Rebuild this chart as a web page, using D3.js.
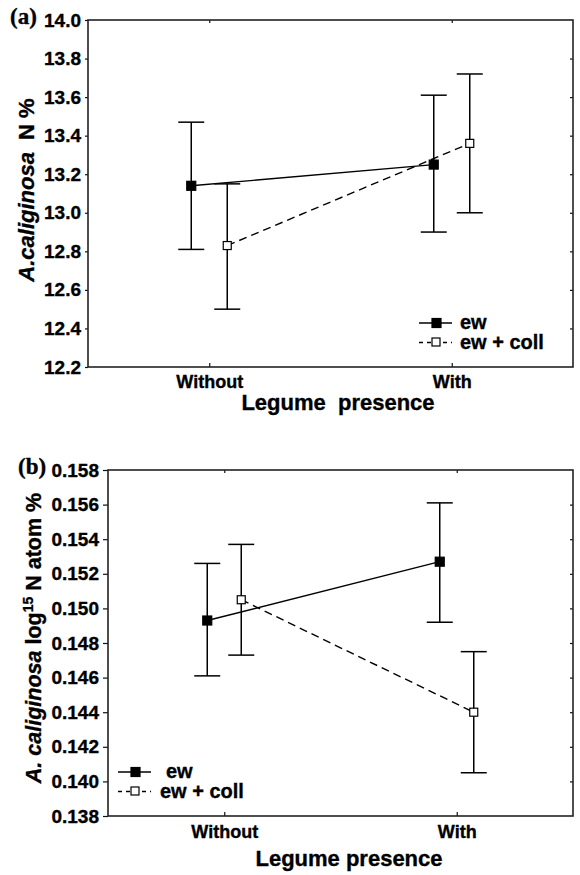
<!DOCTYPE html>
<html>
<head>
<meta charset="utf-8">
<script src="https://cdn.jsdelivr.net/npm/d3@7"></script>
<style>
  body { margin: 0; background: #fff; }
  text { font-family: "Liberation Sans", Arial, sans-serif; font-weight: bold; fill: #000; stroke: #000; stroke-width: 0.35px; }
  .tick text { font-size: 19px; }
  .tick line { stroke: #111; stroke-width: 1.2px; }
  .frame { fill: none; stroke: #222; stroke-width: 1.6px; }
</style>
</head>
<body>
<script>
// shared
var categories = ['Without', 'With'];
var seriesNames = ['ew', 'ew + coll'];

// (a) A. caliginosa N %
var nTicks = [12.2, 12.4, 12.6, 12.8, 13.0, 13.2, 13.4, 13.6, 13.8, 14.0];
var nEwMean = [13.14, 13.25];
var nEwLow = [12.81, 12.90];
var nEwHigh = [13.47, 13.61];
var nCollMean = [12.83, 13.36];
var nCollLow = [12.50, 13.00];
var nCollHigh = [13.15, 13.72];

// (b) A. caliginosa log15 N atom %
var isoTicks = [0.138, 0.140, 0.142, 0.144, 0.146, 0.148, 0.150, 0.152, 0.154, 0.156, 0.158];
var isoEwMean = [0.1493, 0.1527];
var isoEwLow = [0.1461, 0.1492];
var isoEwHigh = [0.1526, 0.1561];
var isoCollMean = [0.1505, 0.1440];
var isoCollLow = [0.1473, 0.1405];
var isoCollHigh = [0.1537, 0.1475];

var svg = d3.select('body').append('svg').attr('width', 580).attr('height', 875);

function panel(opt) {
    var g = svg.append('g');
    var x = d3.scalePoint().domain(categories).range([opt.left, opt.right]).padding(0.5);
    var y = d3.scaleLinear().domain([opt.ticks[0], opt.ticks[opt.ticks.length - 1]])
              .range([opt.bottom, opt.top]);

    // axes
    var left = g.append('g').attr('transform', 'translate(' + opt.left + ',0)')
        .call(d3.axisLeft(y).tickValues(opt.ticks).tickFormat(d3.format(opt.fmt))
              .tickSize(opt.tickLen).tickPadding(opt.pad));
    left.select('.domain').remove();
    var right = g.append('g').attr('transform', 'translate(' + opt.right + ',0)')
        .call(d3.axisLeft(y).tickValues(opt.ticks.slice(1, -1)).tickFormat('').tickSize(3));
    right.select('.domain').remove();
    var bottom = g.append('g').attr('transform', 'translate(0,' + opt.bottom + ')')
        .call(d3.axisBottom(x).tickSize(-4).tickPadding(opt.catPad));
    bottom.select('.domain').remove();
    bottom.selectAll('text').style('font-size', '18px');
    var top = g.append('g').attr('transform', 'translate(0,' + opt.top + ')')
        .call(d3.axisBottom(x).tickSize(3).tickFormat(''));
    top.select('.domain').remove();

    g.append('rect').attr('class', 'frame')
        .attr('x', opt.left).attr('y', opt.top)
        .attr('width', opt.right - opt.left).attr('height', opt.bottom - opt.top);

    var series = [
        { mean: opt.ewMean, low: opt.ewLow, high: opt.ewHigh, dx: -opt.shift, fill: '#000', dash: null, msize: 9 },
        { mean: opt.collMean, low: opt.collLow, high: opt.collHigh, dx: opt.shift, fill: '#fff', dash: '8,5', msize: 8 }
    ];

    series.forEach(function (s) {
        var pts = categories.map(function (c, i) {
            return { x: x(c) + s.dx, m: s.mean[i], lo: s.low[i], hi: s.high[i] };
        });
        // error bars
        var eb = g.append('g').attr('stroke', '#000').attr('stroke-width', 1.5);
        eb.selectAll('line.v').data(pts).enter().append('line')
            .attr('x1', function (d) { return d.x; }).attr('x2', function (d) { return d.x; })
            .attr('y1', function (d) { return y(d.lo); }).attr('y2', function (d) { return y(d.hi); });
        eb.selectAll('line.lo').data(pts).enter().append('line')
            .attr('x1', function (d) { return d.x - 13; }).attr('x2', function (d) { return d.x + 13; })
            .attr('y1', function (d) { return y(d.lo); }).attr('y2', function (d) { return y(d.lo); });
        eb.selectAll('line.hi').data(pts).enter().append('line')
            .attr('x1', function (d) { return d.x - 13; }).attr('x2', function (d) { return d.x + 13; })
            .attr('y1', function (d) { return y(d.hi); }).attr('y2', function (d) { return y(d.hi); });
        // connecting line
        g.append('path').datum(pts)
            .attr('fill', 'none').attr('stroke', '#000').attr('stroke-width', 1.4)
            .attr('stroke-dasharray', s.dash)
            .attr('d', d3.line().x(function (d) { return d.x; }).y(function (d) { return y(d.m); }));
        // markers
        g.selectAll(null).data(pts).enter().append('rect')
            .attr('x', function (d) { return d.x - s.msize / 2; })
            .attr('y', function (d) { return y(d.m) - s.msize / 2; })
            .attr('width', s.msize).attr('height', s.msize)
            .attr('fill', s.fill).attr('stroke', '#000').attr('stroke-width', 1.2);
    });

    // legend
    var lg = g.selectAll('g.legend').data(seriesNames).enter().append('g')
        .attr('transform', function (d, i) { return 'translate(' + opt.legX + ',' + (opt.legY + i * opt.legGap) + ')'; });
    lg.append('line').attr('x1', 0).attr('x2', 33).attr('y1', 0).attr('y2', 0)
        .attr('stroke', '#000').attr('stroke-width', 1.4)
        .attr('stroke-dasharray', function (d, i) { return i ? '4,4' : null; });
    lg.append('rect').attr('x', 13).attr('y', -4.5)
        .attr('width', function (d, i) { return i ? 8 : 9; }).attr('height', function (d, i) { return i ? 8 : 9; })
        .attr('fill', function (d, i) { return i ? '#fff' : '#000'; })
        .attr('stroke', '#000').attr('stroke-width', 1.2);
    lg.append('text').attr('x', function (d, i) { return opt.legText[i]; }).attr('y', 6)
        .style('font-size', '20px').text(function (d) { return d; });

    // x title
    g.append('text').attr('x', opt.xTitleX).attr('y', opt.xTitleY)
        .attr('text-anchor', 'middle').style('font-size', '22px')
        .style('white-space', 'pre').text(opt.xTitle);

    // panel tag
    g.append('text').attr('x', opt.tagX).attr('y', opt.tagY)
        .style('font-family', '"Liberation Serif", "Times New Roman", serif')
        .style('font-size', '23px').text(opt.tag);

    return g;
}

var ga = panel({
    left: 88, right: 573, top: 20, bottom: 367,
    ticks: nTicks, fmt: '.1f', tickLen: 3, pad: 4, catPad: 8, shift: 18,
    ewMean: nEwMean, ewLow: nEwLow, ewHigh: nEwHigh,
    collMean: nCollMean, collLow: nCollLow, collHigh: nCollHigh,
    legX: 419, legY: 323, legGap: 19.5, legText: [41, 41],
    xTitle: 'Legume  presence', xTitleX: 338, xTitleY: 410,
    tag: '(a)', tagX: 10, tagY: 24
});
var ta = ga.append('text').attr('transform', 'translate(34,190) rotate(-90)')
    .attr('text-anchor', 'middle').style('font-size', '22px').style('white-space', 'pre');
ta.append('tspan').style('font-style', 'italic').text('A.caliginosa');
ta.append('tspan').text('  N %');

var gb = panel({
    left: 108, right: 573, top: 470, bottom: 816,
    ticks: isoTicks, fmt: '.3f', tickLen: 5, pad: 4, catPad: 9, shift: 17,
    ewMean: isoEwMean, ewLow: isoEwLow, ewHigh: isoEwHigh,
    collMean: isoCollMean, collLow: isoCollLow, collHigh: isoCollHigh,
    legX: 118, legY: 772, legGap: 19.5, legText: [48, 42],
    xTitle: 'Legume presence', xTitleX: 349, xTitleY: 866,
    tag: '(b)', tagX: 18, tagY: 474
});
var tb = gb.append('text').attr('transform', 'translate(41,638) rotate(-90)')
    .attr('text-anchor', 'middle').style('font-size', '21.5px');
tb.append('tspan').style('font-style', 'italic').text('A. caliginosa');
tb.append('tspan').text(' log');
tb.append('tspan').attr('dy', -8).style('font-size', '14px').text('15');
tb.append('tspan').attr('dy', 8).text(' N atom %');
</script>
</body>
</html>
